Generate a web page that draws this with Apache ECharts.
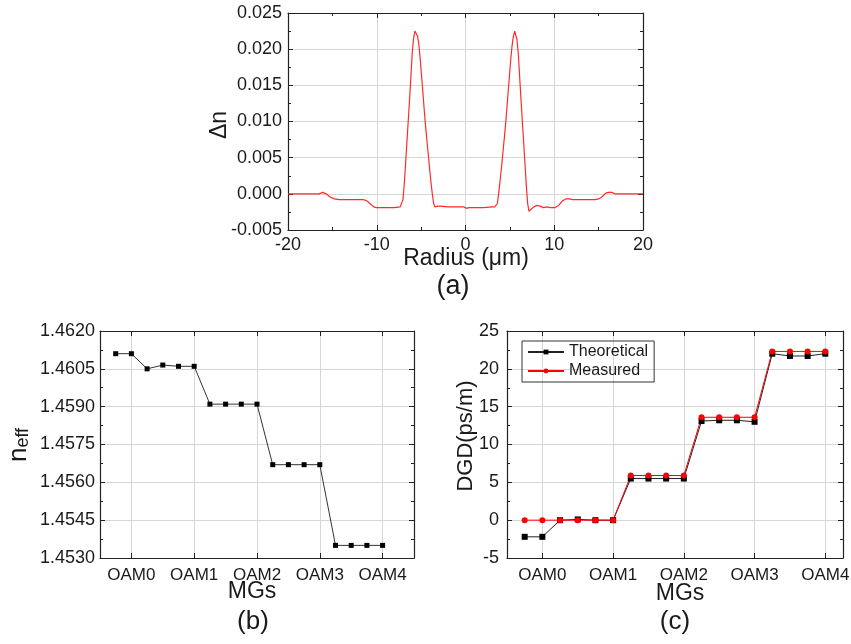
<!DOCTYPE html>
<html><head><meta charset="utf-8">
<script src="https://cdn.jsdelivr.net/npm/echarts@6/dist/echarts.min.js"></script>
<style>html,body{margin:0;padding:0;background:#fff}#c{width:851px;height:644px}</style>
</head><body><div id="c"></div>
<script>
// ---------- data (a) refractive index profile ----------
const radius = [-20, -16.5, -16.1, -15.7, -15.3, -14.8, -14.2, -11.5, -11.1, -10.7, -10.35, -10.05, -9, -8, -7.35, -7.2, -7.05, -6.9, -6.75, -6.6, -6.45, -6.3, -6.15, -6.0, -5.85, -5.7, -5.6, -5.5, -5.4, -5.25, -5.1, -4.95, -4.8, -4.65, -4.5, -4.35, -4.2, -4.05, -3.9, -3.75, -3.6, -3.45, -3.1, -2.8, -2, -1, -0.2, 0.1, 0.4, 1, 2, 3, 3.3, 3.45, 3.6, 3.75, 3.9, 4.05, 4.2, 4.35, 4.5, 4.65, 4.8, 4.95, 5.1, 5.25, 5.4, 5.55, 5.65, 5.8, 5.95, 6.1, 6.25, 6.4, 6.55, 6.7, 6.85, 7.0, 7.15, 7.35, 7.7, 8.0, 8.4, 8.8, 9.2, 9.6, 10.1, 10.5, 10.9, 11.3, 11.7, 12.1, 14.6, 15.0, 15.4, 15.8, 16.1, 16.5, 16.8, 20];
const deltaN = [0, 0, 0.0002, 0.0000, -0.0004, -0.0007, -0.0008, -0.0008, -0.0010, -0.0014, -0.0018, -0.0019, -0.0019, -0.0019, -0.0018, -0.0016, -0.0008, 0.0013, 0.0042, 0.0072, 0.0101, 0.0131, 0.0162, 0.0195, 0.0215, 0.0225, 0.0227, 0.0224, 0.0218, 0.0206, 0.0186, 0.0163, 0.0140, 0.0116, 0.0094, 0.0074, 0.0055, 0.0036, 0.0017, 0.0001, -0.0013, -0.0018, -0.0017, -0.0017, -0.0018, -0.0018, -0.0018, -0.0020, -0.0019, -0.0019, -0.0019, -0.0018, -0.0018, -0.0017, -0.0013, 0.0002, 0.0018, 0.0036, 0.0055, 0.0074, 0.0094, 0.0116, 0.0140, 0.0163, 0.0186, 0.0205, 0.0218, 0.0225, 0.0224, 0.0213, 0.0194, 0.0162, 0.0131, 0.0101, 0.0072, 0.0042, 0.0012, -0.0013, -0.0024, -0.0022, -0.0018, -0.0016, -0.0017, -0.0019, -0.0018, -0.0019, -0.0019, -0.0016, -0.0010, -0.0007, -0.0007, -0.0008, -0.0008, -0.0007, -0.0004, 0.0001, 0.0002, 0.0002, 0, 0];

// ---------- data (b), (c) ----------
const modePos = [-0.25, 0, 0.25, 0.5, 0.75, 1, 1.25, 1.5, 1.75, 2, 2.25, 2.5, 2.75, 3, 3.25, 3.5, 3.75, 4];
const modeGroups = ['OAM0', 'OAM1', 'OAM2', 'OAM3', 'OAM4'];
const groupPos = [0, 1, 2, 3, 4];
const neff = [1.4611, 1.4611, 1.4605, 1.46065, 1.4606, 1.4606, 1.4591, 1.4591, 1.4591, 1.4591, 1.4567, 1.4567, 1.4567, 1.4567, 1.4535, 1.4535, 1.4535, 1.4535];
const neffTicks = [1.4530, 1.4545, 1.4560, 1.4575, 1.4590, 1.4605, 1.4620];
const dgdTheoretical = [-2.2, -2.2, 0, 0.1, 0, 0, 5.5, 5.5, 5.5, 5.5, 13.1, 13.2, 13.2, 13.0, 22.0, 21.7, 21.7, 22.0];
const dgdMeasured = [0, 0, 0, 0, 0, 0, 5.9, 5.9, 5.9, 5.9, 13.6, 13.6, 13.6, 13.6, 22.3, 22.3, 22.3, 22.3];

const FONT = '"Liberation Sans", Arial, sans-serif';
const TXT = '#1a1a1a';
const AX = '#222';
const GRIDC = '#d6d6d6';

const neffMinor = neffTicks.slice(0, -1).map((v, i) => (v + neffTicks[i + 1]) / 2);

function lbl(extra) { return Object.assign({ fontFamily: FONT, fontSize: 18, color: TXT }, extra); }
const axisLine = { show: true, onZero: false, lineStyle: { color: AX, width: 1.2 } };
const noLine = { show: false, onZero: false };

const chart = echarts.init(document.getElementById('c'), null, { renderer: 'canvas' });

const option = {
  animation: false,
  backgroundColor: '#fff',
  grid: [
    { left: 288, top: 13, width: 355, height: 217, outerBoundsMode: 'none' },
    { left: 100, top: 331, width: 314, height: 227, outerBoundsMode: 'none' },
    { left: 507, top: 331, width: 336, height: 227, outerBoundsMode: 'none' }
  ],
  xAxis: [
    { gridIndex: 0, type: 'value', position: 'bottom', min: -20, max: 20, interval: 10,
      axisLine, axisTick: { inside: true, length: 5, lineStyle: { color: AX } },
      minorTick: { show: true, splitNumber: 2, length: 3, lineStyle: { color: AX } },
      axisLabel: lbl({ margin: 6 }), splitLine: { show: true, lineStyle: { color: GRIDC, width: 1 } } },
    { gridIndex: 0, type: 'value', position: 'top', min: -20, max: 20, interval: 10,
      axisLine, axisTick: { inside: true, length: 5, lineStyle: { color: AX } },
      minorTick: { show: true, splitNumber: 2, length: 3, lineStyle: { color: AX } },
      axisLabel: { show: false }, splitLine: { show: false } },
    { gridIndex: 1, type: 'value', position: 'bottom', min: -0.5, max: 4.5,
      axisLine, axisTick: { inside: true, length: 5, customValues: groupPos, lineStyle: { color: AX } },
      axisLabel: lbl({ fontSize: 17, margin: 9, customValues: groupPos, formatter: v => modeGroups[Math.round(v)] }),
      splitLine: { show: true, lineStyle: { color: GRIDC, width: 1 } } },
    { gridIndex: 1, type: 'value', position: 'top', min: -0.5, max: 4.5,
      axisLine, axisTick: { inside: true, length: 5, customValues: groupPos, lineStyle: { color: AX } },
      axisLabel: { show: false }, splitLine: { show: false } },
    { gridIndex: 2, type: 'value', position: 'bottom', min: -0.5, max: 4.25,
      axisLine, axisTick: { inside: true, length: 5, customValues: groupPos, lineStyle: { color: AX } },
      axisLabel: lbl({ fontSize: 17, margin: 9, customValues: groupPos, formatter: v => modeGroups[Math.round(v)] }),
      splitLine: { show: true, lineStyle: { color: GRIDC, width: 1 } } },
    { gridIndex: 2, type: 'value', position: 'top', min: -0.5, max: 4.25,
      axisLine, axisTick: { inside: true, length: 5, customValues: groupPos, lineStyle: { color: AX } },
      axisLabel: { show: false }, splitLine: { show: false } }
  ],
  yAxis: [
    { gridIndex: 0, type: 'value', position: 'left', min: -0.005, max: 0.025, interval: 0.005,
      axisLine, axisTick: { inside: true, length: 5, lineStyle: { color: AX } },
      minorTick: { show: true, splitNumber: 2, length: 3, lineStyle: { color: AX } },
      axisLabel: lbl({ margin: 6, formatter: v => v.toFixed(3) }),
      splitLine: { show: true, lineStyle: { color: GRIDC, width: 1 } } },
    { gridIndex: 0, type: 'value', position: 'right', min: -0.005, max: 0.025, interval: 0.005,
      axisLine, axisTick: { inside: true, length: 5, lineStyle: { color: AX } },
      minorTick: { show: true, splitNumber: 2, length: 3, lineStyle: { color: AX } },
      axisLabel: { show: false }, splitLine: { show: false } },
    { gridIndex: 1, type: 'value', position: 'left', min: 1.4530, max: 1.4620,
      axisLine, axisTick: { inside: true, length: 5, customValues: neffTicks, lineStyle: { color: AX } },
      axisLabel: lbl({ margin: 5, customValues: neffTicks, formatter: v => v.toFixed(4) }),
      splitLine: { show: true, lineStyle: { color: GRIDC, width: 1 } } },
    { gridIndex: 1, type: 'value', position: 'right', min: 1.4530, max: 1.4620,
      axisLine, axisTick: { inside: true, length: 5, customValues: neffTicks, lineStyle: { color: AX } },
      axisLabel: { show: false }, splitLine: { show: false } },
    { gridIndex: 1, type: 'value', position: 'left', min: 1.4530, max: 1.4620,
      axisLine: noLine, axisTick: { inside: true, length: 3, customValues: neffMinor, lineStyle: { color: AX } },
      axisLabel: { show: false }, splitLine: { show: false } },
    { gridIndex: 1, type: 'value', position: 'right', min: 1.4530, max: 1.4620,
      axisLine: noLine, axisTick: { inside: true, length: 3, customValues: neffMinor, lineStyle: { color: AX } },
      axisLabel: { show: false }, splitLine: { show: false } },
    { gridIndex: 2, type: 'value', position: 'left', min: -5, max: 25, interval: 5,
      axisLine, axisTick: { inside: true, length: 5, lineStyle: { color: AX } },
      minorTick: { show: true, splitNumber: 2, length: 3, lineStyle: { color: AX } },
      axisLabel: lbl({ margin: 8 }),
      splitLine: { show: true, lineStyle: { color: GRIDC, width: 1 } } },
    { gridIndex: 2, type: 'value', position: 'right', min: -5, max: 25, interval: 5,
      axisLine, axisTick: { inside: true, length: 5, lineStyle: { color: AX } },
      minorTick: { show: true, splitNumber: 2, length: 3, lineStyle: { color: AX } },
      axisLabel: { show: false }, splitLine: { show: false } }
  ],
  legend: {
    data: ['Theoretical', 'Measured'],
    orient: 'vertical', left: 522, top: 341,
    borderColor: '#333', borderWidth: 1, padding: [3, 6, 3, 5],
    itemGap: 3, itemWidth: 36, itemHeight: 6,
    textStyle: { fontFamily: FONT, fontSize: 16, color: TXT }
  },
  series: [
    { type: 'line', xAxisIndex: 0, yAxisIndex: 0, showSymbol: false, symbol: 'none',
      data: radius.map((r, i) => [r, deltaN[i]]),
      lineStyle: { color: '#ff2a2a', width: 1.2 }, z: 5 },
    { type: 'line', xAxisIndex: 2, yAxisIndex: 2, symbol: 'rect', symbolSize: 5,
      data: modePos.map((p, i) => [p, neff[i]]),
      itemStyle: { color: '#000' }, lineStyle: { color: '#333', width: 1 } },
    { name: 'Theoretical', type: 'line', xAxisIndex: 4, yAxisIndex: 6, symbol: 'rect', symbolSize: 6,
      data: modePos.map((p, i) => [p, dgdTheoretical[i]]),
      itemStyle: { color: '#000' }, lineStyle: { color: '#222', width: 1 } },
    { name: 'Measured', type: 'line', xAxisIndex: 4, yAxisIndex: 6, symbol: 'circle', symbolSize: 6,
      data: modePos.map((p, i) => [p, dgdMeasured[i]]),
      itemStyle: { color: '#ff0000' }, lineStyle: { color: '#ff0000', width: 1 } }
  ],
  graphic: [
    { type: 'text', x: 220, y: 125, rotation: Math.PI / 2,
      style: { text: 'Δn', font: '23px ' + FONT, fill: TXT, align: 'center', verticalAlign: 'middle' } },
    { type: 'text', x: 466, y: 259,
      style: { text: 'Radius (μm)', font: '23px ' + FONT, fill: TXT, align: 'center', verticalAlign: 'middle' } },
    { type: 'text', x: 453, y: 287,
      style: { text: '(a)', font: '27px ' + FONT, fill: TXT, align: 'center', verticalAlign: 'middle' } },
    { type: 'text', x: 19, y: 445, rotation: Math.PI / 2,
      style: { text: '{n|n}{e|eff}', fill: TXT, align: 'center', verticalAlign: 'middle',
        rich: { n: { font: '26px ' + FONT, fill: TXT, verticalAlign: 'bottom' },
                e: { font: '18px ' + FONT, fill: TXT, verticalAlign: 'bottom' } } } },
    { type: 'text', x: 252, y: 592,
      style: { text: 'MGs', font: '23px ' + FONT, fill: TXT, align: 'center', verticalAlign: 'middle' } },
    { type: 'text', x: 253, y: 622,
      style: { text: '(b)', font: '26px ' + FONT, fill: TXT, align: 'center', verticalAlign: 'middle' } },
    { type: 'text', x: 466, y: 436, rotation: Math.PI / 2,
      style: { text: 'DGD(ps/m)', font: '22px ' + FONT, fill: TXT, align: 'center', verticalAlign: 'middle' } },
    { type: 'text', x: 680, y: 594,
      style: { text: 'MGs', font: '23px ' + FONT, fill: TXT, align: 'center', verticalAlign: 'middle' } },
    { type: 'text', x: 675, y: 622,
      style: { text: '(c)', font: '26px ' + FONT, fill: TXT, align: 'center', verticalAlign: 'middle' } }
  ]
};
chart.setOption(option);
</script>
</body></html>
